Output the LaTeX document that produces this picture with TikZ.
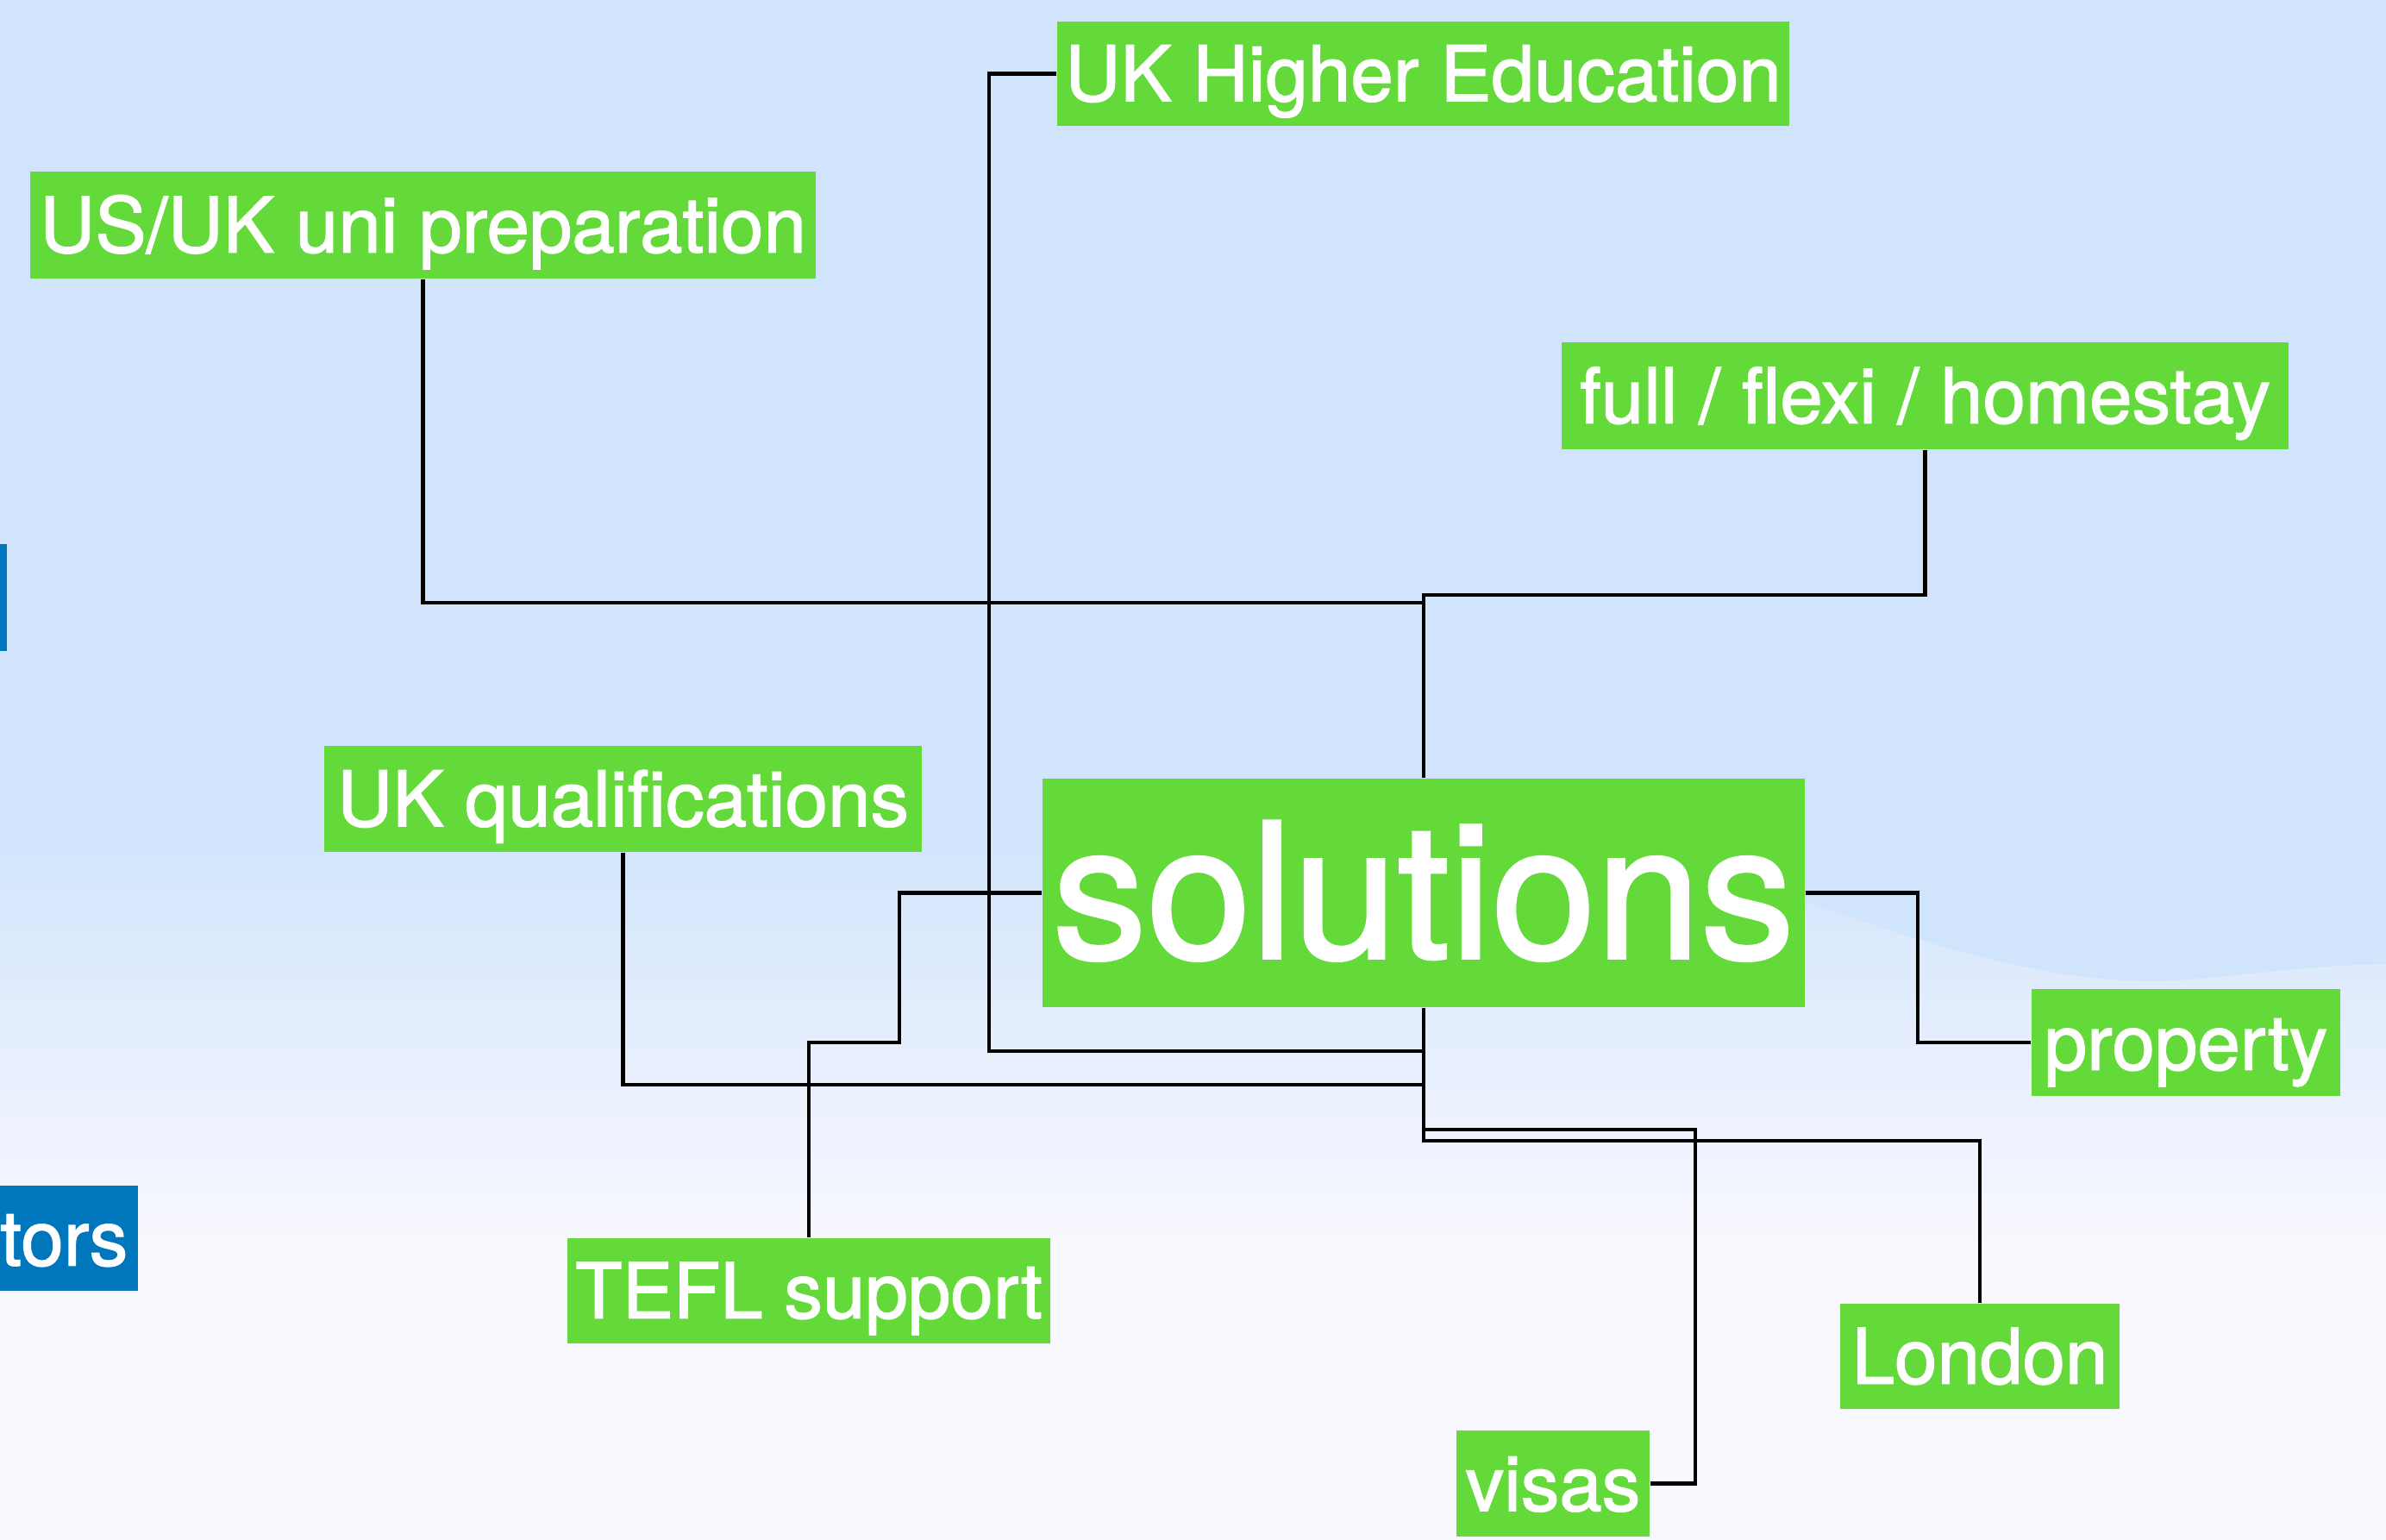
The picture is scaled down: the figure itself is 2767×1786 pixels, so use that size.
\documentclass[tikz,border=0pt]{standalone}
\usepackage{fontspec}
\setmainfont{TeX Gyre Heros}[FakeBold=1.6]
\definecolor{bgblue}{RGB}{208,228,252}
\definecolor{bgwhite}{RGB}{249,248,254}
\definecolor{boxgreen}{RGB}{99,217,58}
\definecolor{boxblue}{RGB}{0,118,188}
\tikzset{
  gbox/.style={fill=boxgreen, text=white, inner sep=0pt, text height=18pt, text depth=0pt,
               font=\fontsize{25.3}{30}\selectfont},
  bbox/.style={fill=boxblue, text=white, inner sep=0pt, text height=18pt, text depth=0pt,
               font=\fontsize{25.3}{30}\selectfont},
  conn/.style={draw=black, line width=1.3pt}
}
\begin{document}
\begin{tikzpicture}[x=0.01cm, y=-0.01cm]
\useasboundingbox (0,0) rectangle (2767,1786);
\clip (0,0) rectangle (2767,1786);
% background
\fill[bgblue] (0,0) rectangle (2767,950);
\shade[top color=bgblue, bottom color=bgwhite] (0,949) rectangle (2767,1450);
\fill[bgwhite] (0,1449) rectangle (2767,1786);
\fill[bgblue] (1700,900) .. controls (1850,960) and (2000,1010) .. (2093,1045)
  .. controls (2250,1100) and (2400,1150) .. (2550,1135)
  .. controls (2650,1125) and (2720,1118) .. (2767,1118) -- (2767,900) -- cycle;

% nodes
\node[gbox, minimum width=8.49cm, minimum height=1.21cm] (hed) at (1650.5,85.5) {UK Higher Education};
\node[gbox, minimum width=9.11cm, minimum height=1.24cm] (prep) at (490.5,261) {US/UK uni preparation};
\node[gbox, minimum width=8.43cm, minimum height=1.24cm] (flexi) at (2232.5,459) {full / flexi / homestay};
\node[gbox, minimum width=6.93cm, minimum height=1.23cm] (qual) at (722.5,926.5) {UK qualifications};
\node[gbox, minimum width=8.84cm, minimum height=2.65cm, text height=43pt,
      font=\fontsize{62}{72}\selectfont] (sol) at (1651,1035.5) {solutions};
\node[gbox, minimum width=3.58cm, minimum height=1.24cm] (prop) at (2535,1209) {property};
\node[gbox, minimum width=5.60cm, minimum height=1.22cm] (tefl) at (938,1497) {TEFL support};
\node[gbox, minimum width=3.24cm, minimum height=1.22cm] (london) at (2296,1573) {London};
\node[gbox, minimum width=2.24cm, minimum height=1.23cm] (visas) at (1801,1720.5) {visas};
\node[bbox, minimum width=0.08cm, minimum height=1.24cm] (blueone) at (4,693) {};
\node[bbox, anchor=east, inner xsep=0.12cm, minimum height=1.22cm] (tors) at (161,1436) {tors};

% connectors
\draw[conn] (hed.west) -| (1147,1219) -| (sol.south);
\draw[conn] (prep.south) |- (1651,699) -- (sol.north);
\draw[conn] (flexi.south) |- (1651,690) -- (sol.north);
\draw[conn] (qual.south) |- (1651,1258) -- (sol.south);
\draw[conn] (sol.west) -| (1043,1209) -| (tefl.north);
\draw[conn] (sol.east) -| (2224,1209) -- (prop.west);
\draw[conn] (sol.south) |- (1966,1310) |- (visas.east);
\draw[conn] (sol.south) -- (1651,1323) -| (london.north);
\end{tikzpicture}
\end{document}
